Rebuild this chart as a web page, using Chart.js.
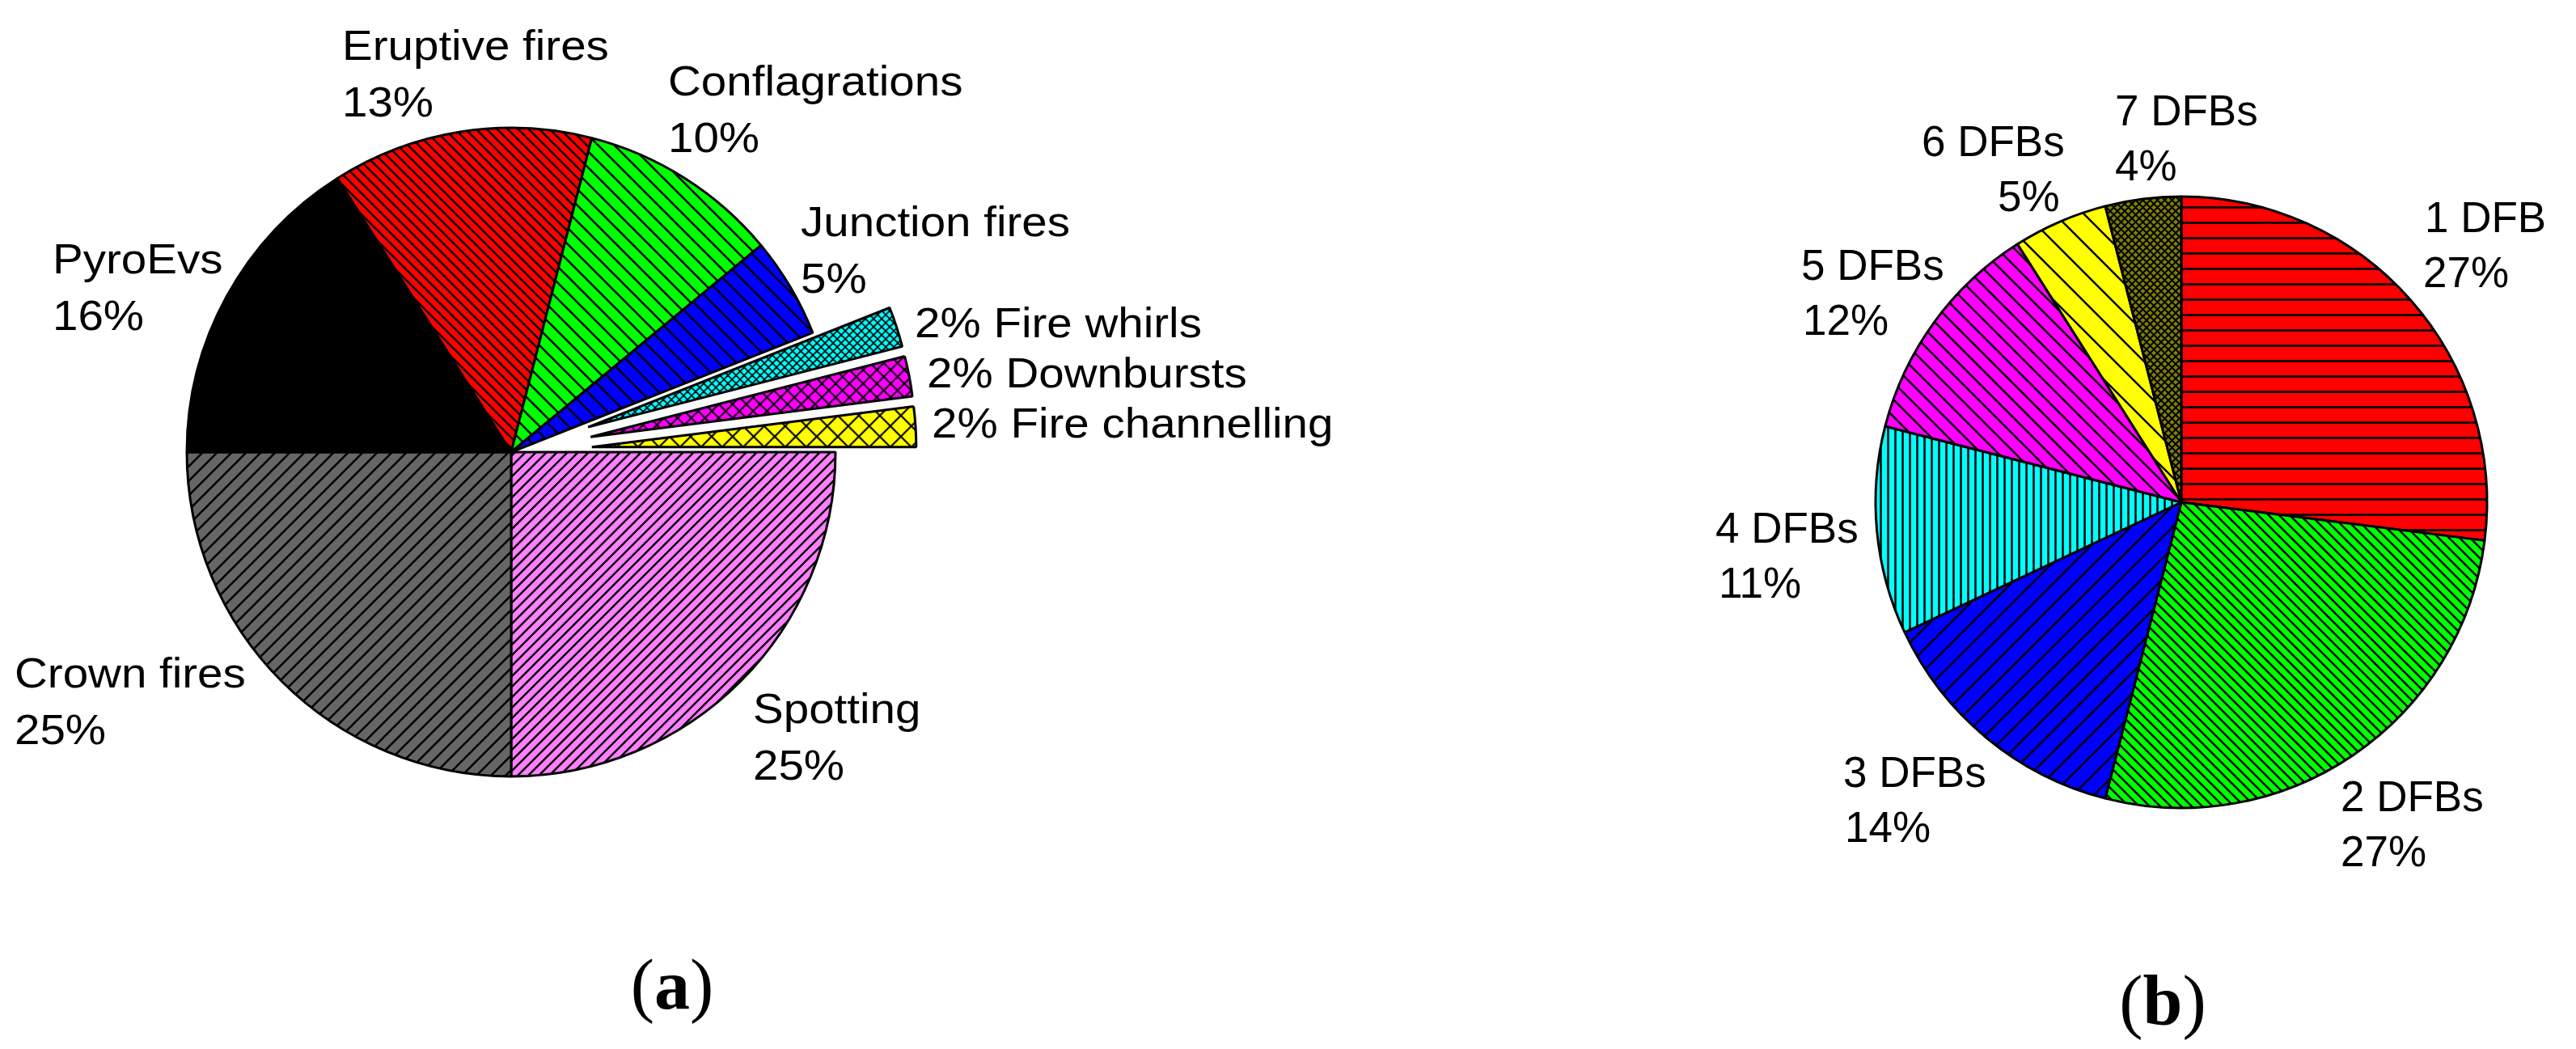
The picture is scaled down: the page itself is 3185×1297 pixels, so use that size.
<!DOCTYPE html>
<html>
<head>
<meta charset="utf-8">
<script src="https://cdn.jsdelivr.net/npm/chart.js@4.4.1/dist/chart.umd.min.js"></script>
<style>
  html, body { margin: 0; padding: 0; background: #fff; }
  body { width: 3185px; height: 1297px; position: relative; overflow: hidden; }
  .box { position: absolute; }
  #boxA { left: 0; top: 0; width: 1700px; height: 1297px; }
  #boxB { left: 1700px; top: 0; width: 1485px; height: 1297px; }
  .cap { position: absolute; font-family: "Liberation Serif", serif; font-size: 88px;
         line-height: 88px; color: #000; transform: translateX(-50%); white-space: nowrap; }
  #capA { left: 831px; top: 1174px; }
  #capB { left: 2674px; top: 1194px; }
</style>
</head>
<body>
<div class="box" id="boxA"><canvas id="pieA"></canvas></div>
<div class="box" id="boxB"><canvas id="pieB"></canvas></div>
<div class="cap" id="capA">(<b>a</b>)</div>
<div class="cap" id="capB">(<b>b</b>)</div>
<script>
// panel (a) - fire behaviour types, clockwise from 3 o'clock
const typeLabels = ['Spotting', 'Crown fires', 'PyroEvs', 'Eruptive fires', 'Conflagrations',
                    'Junction fires', 'Fire whirls', 'Downbursts', 'Fire channelling'];
const typeShares = [25, 25, 16, 13, 10, 5, 2, 2, 2];

// panel (b) - number of DFBs, clockwise from 12 o'clock
const dfbLabels = ['1 DFB', '2 DFBs', '3 DFBs', '4 DFBs', '5 DFBs', '6 DFBs', '7 DFBs'];
const dfbShares = [27, 27, 14, 11, 12, 5, 4];

// builds a small repeating tile: coloured ground with black hatching
function hatch(bg, kind, step, lw) {
    const s = step || 8;
    const c = document.createElement('canvas');
    c.width = s; c.height = s;
    const g = c.getContext('2d');
    g.fillStyle = bg;
    g.fillRect(0, 0, s, s);
    if (kind !== 'solid') {
        g.strokeStyle = '#000';
        g.lineWidth = lw;
        g.beginPath();
        if (kind === 'fwd' || kind === 'cross') {   // "/"
            g.moveTo(-s / 2, 3 * s / 2); g.lineTo(3 * s / 2, -s / 2);
            g.moveTo(-s / 2, s / 2); g.lineTo(s / 2, -s / 2);
            g.moveTo(s / 2, 3 * s / 2); g.lineTo(3 * s / 2, s / 2);
        }
        if (kind === 'back' || kind === 'cross') {  // "\"
            g.moveTo(-s / 2, -s / 2); g.lineTo(3 * s / 2, 3 * s / 2);
            g.moveTo(s / 2, -s / 2); g.lineTo(3 * s / 2, s / 2);
            g.moveTo(-s / 2, s / 2); g.lineTo(s / 2, 3 * s / 2);
        }
        if (kind === 'horiz') { g.moveTo(0, s / 2); g.lineTo(s, s / 2); }
        if (kind === 'vert') { g.moveTo(s / 2, 0); g.lineTo(s / 2, s); }
        g.stroke();
    }
    return g.createPattern(c, 'repeat');
}

const typeFills = [
    hatch('#FF80FF', 'fwd', 13, 2.5),
    hatch('#666666', 'fwd', 18, 2.6),
    hatch('#000000', 'solid'),
    hatch('#FF0000', 'back', 13, 2.5),
    hatch('#00FF00', 'back', 20, 2.6),
    hatch('#0000FF', 'back', 22, 2.6),
    hatch('#00FFFF', 'cross', 10, 1.6),
    hatch('#FF00FF', 'cross', 17, 2),
    hatch('#FFFF00', 'cross', 26, 2.2)
];
const dfbFills = [
    hatch('#FF0000', 'horiz', 19, 2.7),
    hatch('#00FF00', 'back', 13, 2.5),
    hatch('#0000FF', 'fwd', 26, 2.5),
    hatch('#00FFFF', 'vert', 9, 2.5),
    hatch('#FF00FF', 'back', 21, 2.5),
    hatch('#FFFF00', 'back', 36, 2.5),
    hatch('#808000', 'cross', 9, 2)
];

// pulled-out distance of the three small slices in panel (a)
const typeExplode = [0, 0, 0, 0, 0, 0, 100, 100, 100];

// label anchors, relative to the pie centre (text left edge, first line middle)
const typeLabelPos = [[299, 321], [-614, 277], [-567, -235], [-209, -499], [194, -455],
                      [358, -281], [499, -156], [514, -94], [520, -32]];
const typeInline = [false, false, false, false, false, false, true, true, true];
const dfbLabelPos = [[301, -349], [197, 367], [-418, 337], [-576, 35], [-470, -290],
                     [-321, -443], [-82, -481]];
const dfbSecondShift = [-2, 0, 2, 4, 2, 94, 0];

// moves whole slices outwards along their bisector, keeping radius and angle
const explodeSlices = {
    id: 'explodeSlices',
    afterDatasetUpdate(chart, args, opts) {
        if (!opts || !opts.dist) return;
        chart.getDatasetMeta(args.index).data.forEach((arc, i) => {
            const d = opts.dist[i] || 0;
            if (!d || arc._pulled) return;
            arc._pulled = true;
            arc.draw = function (ctx) {
                const mid = (this.startAngle + this.endAngle) / 2;
                ctx.save();
                ctx.translate(Math.cos(mid) * d, Math.sin(mid) * d);
                Chart.ArcElement.prototype.draw.call(this, ctx);
                ctx.restore();
            };
        });
    }
};

const sliceLabels = {
    id: 'sliceLabels',
    afterDatasetsDraw(chart, args, opts) {
        const meta = chart.getDatasetMeta(0);
        const cx = meta.data[0].x, cy = meta.data[0].y;
        const values = chart.data.datasets[0].data;
        const ctx = chart.ctx;
        const put = (txt, x, y) => {
            ctx.save();
            ctx.translate(x, y);
            ctx.scale(opts.stretch || 1, 1);
            ctx.fillText(txt, 0, 0);
            ctx.restore();
        };
        ctx.save();
        ctx.font = opts.font;
        ctx.fillStyle = '#000';
        ctx.textAlign = 'left';
        ctx.textBaseline = 'middle';
        chart.data.labels.forEach((name, i) => {
            const x = cx + opts.pos[i][0];
            const y = cy + opts.pos[i][1];
            const pct = values[i] + '%';
            if (opts.inline && opts.inline[i]) {
                put(pct + ' ' + name, x, y);
            } else {
                put(name, x, y);
                put(pct, x + (opts.shift ? opts.shift[i] : 0), y + opts.gap);
            }
        });
        ctx.restore();
    }
};

Chart.register(explodeSlices, sliceLabels);

function makePie(id, labels, values, fills, rotation, radius, padding, explode, labelOpts) {
    return new Chart(document.getElementById(id), {
        type: 'pie',
        data: {
            labels: labels,
            datasets: [{
                data: values,
                backgroundColor: fills,
                borderColor: '#000',
                borderWidth: 3
            }]
        },
        options: {
            responsive: true,
            maintainAspectRatio: false,
            animation: false,
            events: [],
            rotation: rotation,
            radius: radius,
            layout: { padding: padding },
            plugins: {
                legend: { display: false },
                tooltip: { enabled: false },
                explodeSlices: { dist: explode },
                sliceLabels: labelOpts
            }
        }
    });
}

makePie('pieA', typeLabels, typeShares, typeFills, 90, 401,
    { left: 132, right: 568, top: 59, bottom: 238 },
    typeExplode,
    { font: '52px "Liberation Sans", Arial, sans-serif', stretch: 1.087,
      pos: typeLabelPos, inline: typeInline, gap: 70 });

makePie('pieB', dfbLabels, dfbShares, dfbFills, 0, 378,
    { left: 597, right: 88, top: 221, bottom: 276 },
    null,
    { font: '53px "Liberation Sans", Arial, sans-serif', stretch: 1,
      pos: dfbLabelPos, shift: dfbSecondShift, gap: 68 });
</script>
</body>
</html>
